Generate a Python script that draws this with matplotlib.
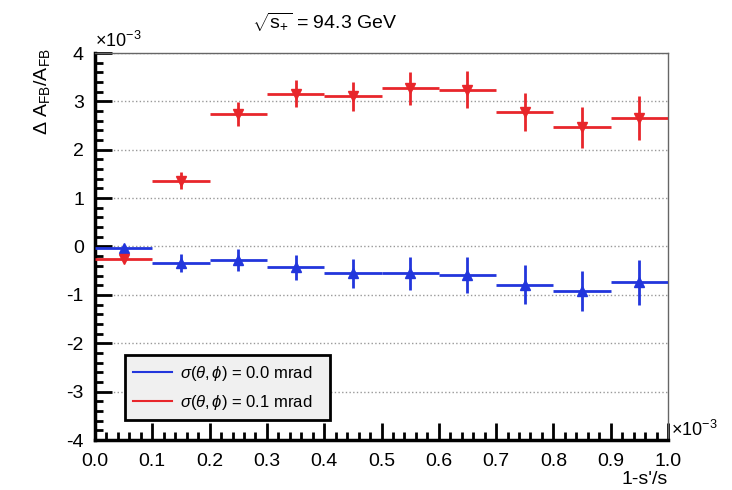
import numpy as np
import matplotlib
matplotlib.use('Agg')
import matplotlib.pyplot as plt
from matplotlib.ticker import MultipleLocator, FormatStrFormatter
from matplotlib.lines import Line2D

plt.rcParams['font.family'] = ['Liberation Sans', 'DejaVu Sans']
plt.rcParams['mathtext.fontset'] = 'custom'
plt.rcParams['mathtext.rm'] = 'Liberation Sans'
plt.rcParams['mathtext.it'] = 'Liberation Sans:italic'
plt.rcParams['mathtext.sf'] = 'Liberation Sans'

# bin centres (x 1e-3) and half width
x = np.array([0.05, 0.15, 0.25, 0.35, 0.45, 0.55, 0.65, 0.75, 0.85, 0.95])
xerr = 0.05

# sigma = 0.0 mrad (blue), values x 1e-3
y0 = np.array([-0.03, -0.34, -0.28, -0.43, -0.55, -0.55, -0.59, -0.79, -0.92, -0.74])
e0 = np.array([0.05, 0.18, 0.23, 0.26, 0.30, 0.34, 0.37, 0.40, 0.42, 0.46])

# sigma = 0.1 mrad (red)
y1 = np.array([-0.26, 1.36, 2.74, 3.16, 3.11, 3.27, 3.24, 2.78, 2.46, 2.66])
e1 = np.array([0.07, 0.18, 0.24, 0.28, 0.30, 0.34, 0.38, 0.40, 0.43, 0.45])

labels = [r'$\sigma(\theta,\phi)$ = 0.0 mrad', r'$\sigma(\theta,\phi)$ = 0.1 mrad']
blue = '#2236dc'
red = '#e8262b'

fig = plt.figure(figsize=(7.32, 4.9), dpi=100)
ax = fig.add_axes([95/732, 1-440/490, (668-95)/732, (440-53)/490])

ax.errorbar(x, y0, xerr=xerr, yerr=e0, fmt='^', color=blue, ms=6.5,
            elinewidth=2, capsize=0, zorder=3)
ax.errorbar(x, y1, xerr=xerr, yerr=e1, fmt='v', color=red, ms=6.5,
            elinewidth=2, capsize=0, zorder=3)

ax.set_xlim(0, 1.0)
ax.set_ylim(-4, 4)
ax.xaxis.set_major_locator(MultipleLocator(0.1))
ax.xaxis.set_minor_locator(MultipleLocator(0.02))
ax.yaxis.set_major_locator(MultipleLocator(1))
ax.yaxis.set_minor_locator(MultipleLocator(0.2))
ax.xaxis.set_major_formatter(FormatStrFormatter('%.1f'))
ax.yaxis.set_major_formatter(FormatStrFormatter('%d'))
ax.tick_params(which='major', direction='in', length=12, width=2, labelsize=14,
               top=False, right=False)
ax.tick_params(which='minor', direction='in', length=6, width=2,
               top=False, right=False)
ax.tick_params(axis='x', which='major', pad=9)
ax.tick_params(axis='y', which='major', pad=8)
ax.grid(axis='y', which='major', linestyle=':', color='#999999', linewidth=1)

for s in ['left', 'bottom']:
    ax.spines[s].set_linewidth(2.5)
for s in ['top', 'right']:
    ax.spines[s].set_linewidth(1)
    ax.spines[s].set_color('#666666')

# exponent labels
ax.text(0.0, 1.005, r'$\times$10$^{-3}$', transform=ax.transAxes,
        ha='left', va='bottom', fontsize=13)
ax.text(1.005, 0.0, r'$\times$10$^{-3}$', transform=ax.transAxes,
        ha='left', va='bottom', fontsize=13)

ax.set_xlabel("1-s'/s", fontsize=14, loc='right', labelpad=1)
fig.text(42/732, 1-48/490, r'$\Delta$ A$_{\mathrm{FB}}$/A$_{\mathrm{FB}}$',
         rotation=90, ha='center', va='top', fontsize=14)
fig.text(325/732, 1-22/490, r'$\sqrt{\mathrm{s}_{+}}$ = 94.3 GeV',
         ha='center', va='center', fontsize=14)

handles = [Line2D([0], [0], color=blue, lw=1.5), Line2D([0], [0], color=red, lw=1.5)]
leg = ax.legend(handles, labels, loc='lower left',
                bbox_to_anchor=((125-95)/573, (440-420)/387, (330-125)/573, (420-352)/387),
                mode='expand', fontsize=12, fancybox=False, framealpha=1,
                edgecolor='black', facecolor='#f0f0f0', handlelength=2.3,
                handletextpad=0.5, borderaxespad=0, borderpad=0.5,
                labelspacing=0.6)
leg.get_frame().set_linewidth(2)

fig.savefig('out.png', dpi=100)
